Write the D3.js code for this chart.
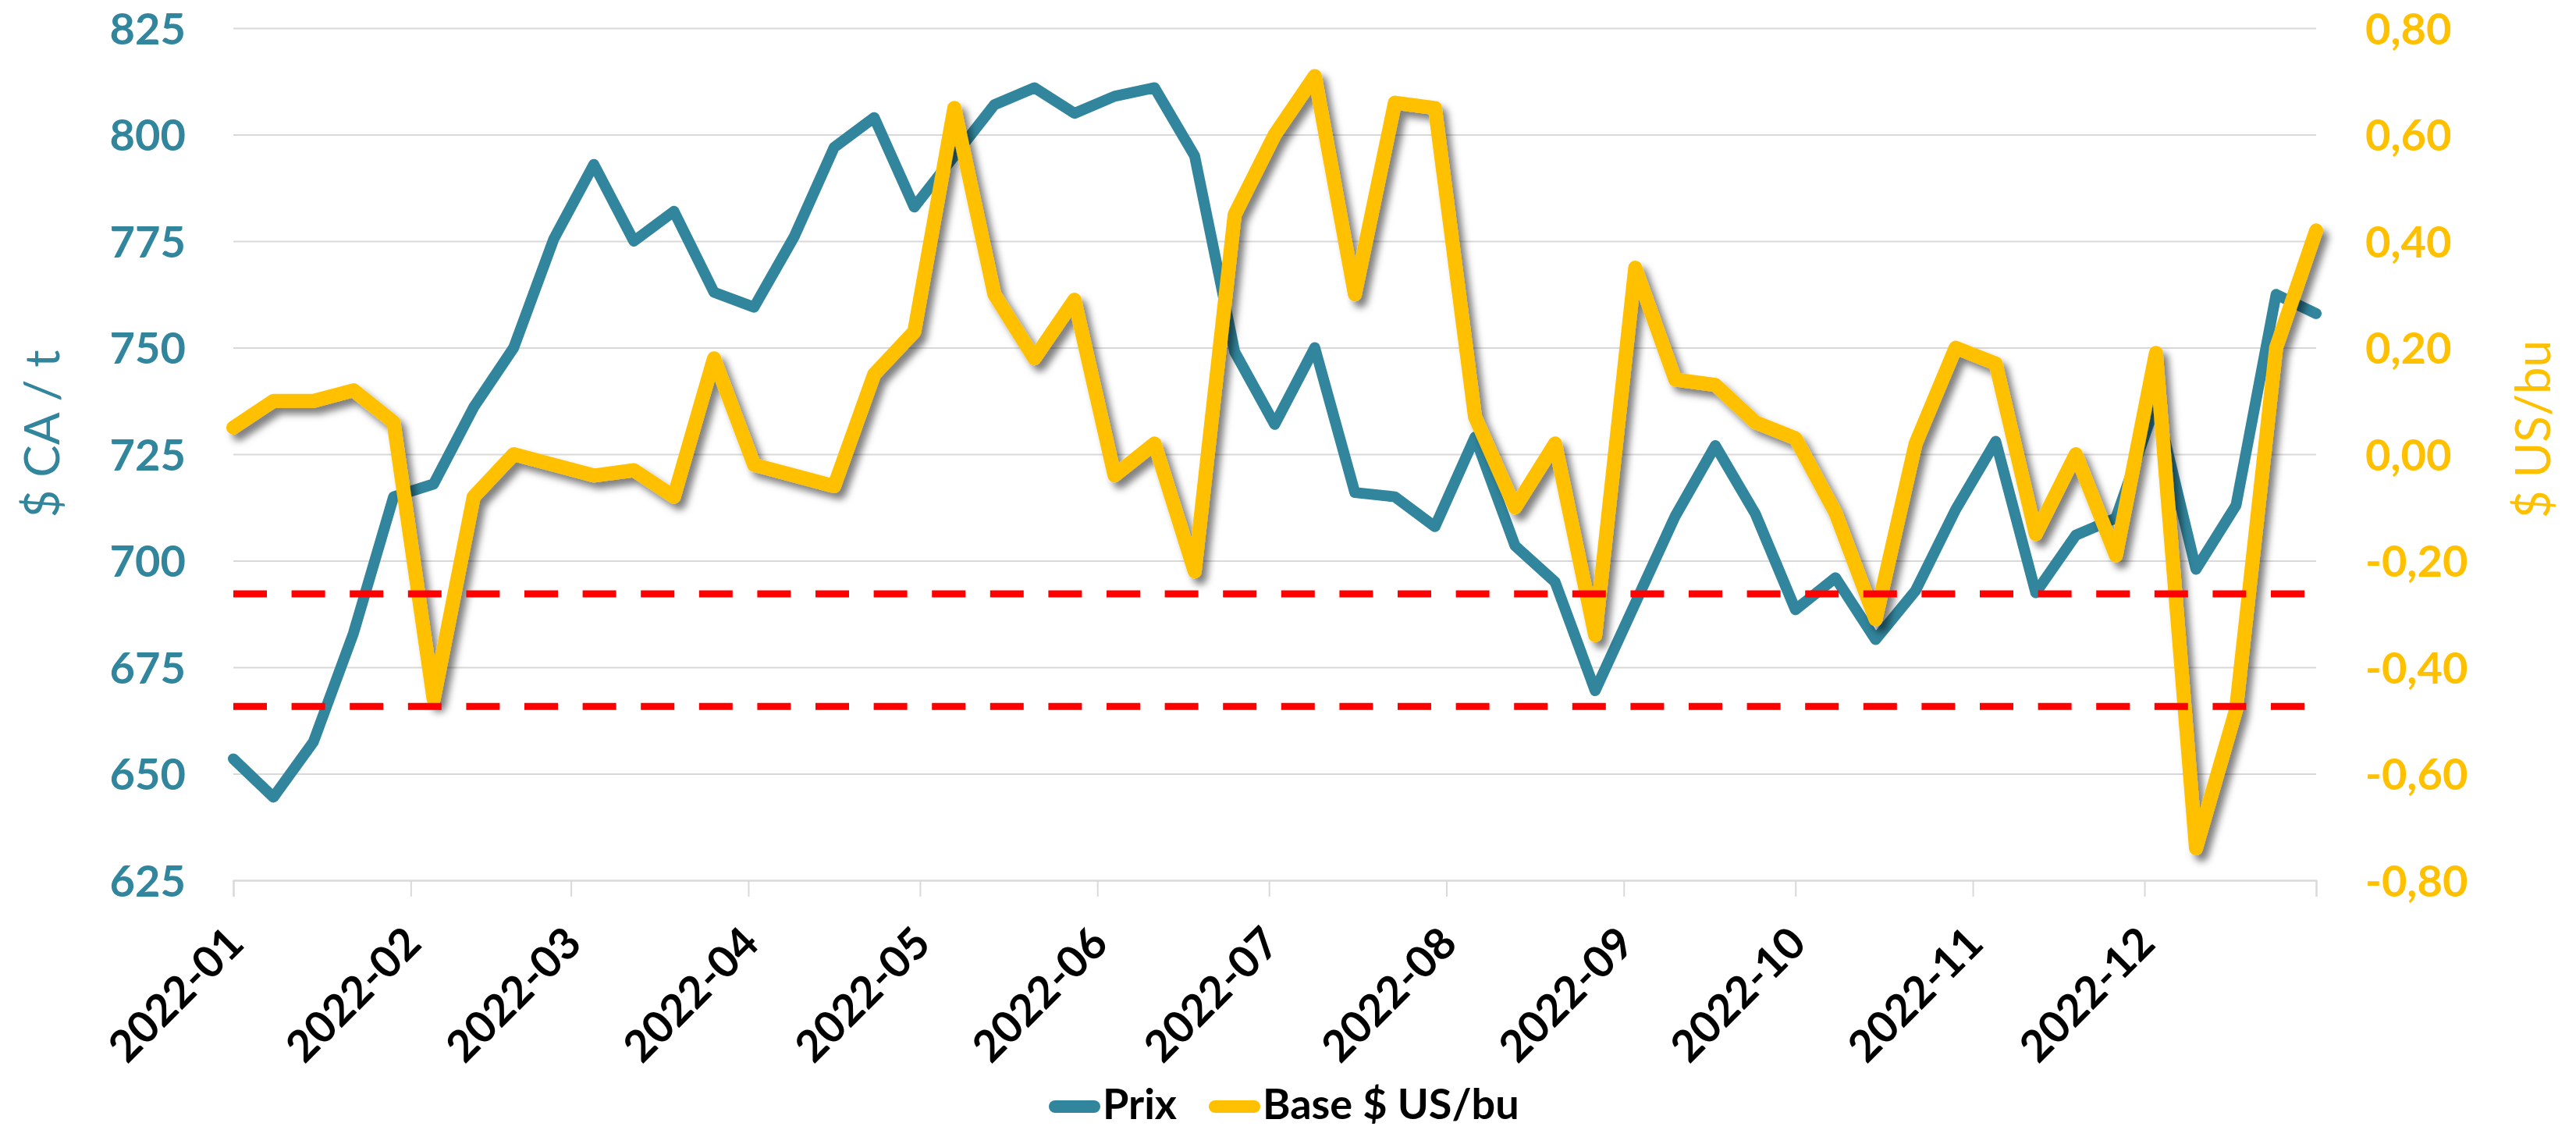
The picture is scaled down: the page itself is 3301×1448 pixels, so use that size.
<!DOCTYPE html>
<html>
<head>
<meta charset="utf-8">
<script src="https://cdn.jsdelivr.net/npm/d3@7"></script>
<style>
  body { margin: 0; background: #fff; }
  svg { display: block; font-family: Lato, "Open Sans", sans-serif; }
</style>
</head>
<body>
<div id="chart"></div>
<script>
// Weekly observations (saturdays)
const dates = [
  "2022-01-01","2022-01-08","2022-01-15","2022-01-22","2022-01-29",
  "2022-02-05","2022-02-12","2022-02-19","2022-02-26",
  "2022-03-05","2022-03-12","2022-03-19","2022-03-26",
  "2022-04-02","2022-04-09","2022-04-16","2022-04-23","2022-04-30",
  "2022-05-07","2022-05-14","2022-05-21","2022-05-28",
  "2022-06-04","2022-06-11","2022-06-18","2022-06-25",
  "2022-07-02","2022-07-09","2022-07-16","2022-07-23","2022-07-30",
  "2022-08-06","2022-08-13","2022-08-20","2022-08-27",
  "2022-09-03","2022-09-10","2022-09-17","2022-09-24",
  "2022-10-01","2022-10-08","2022-10-15","2022-10-22","2022-10-29",
  "2022-11-05","2022-11-12","2022-11-19","2022-11-26",
  "2022-12-03","2022-12-10","2022-12-17","2022-12-24","2022-12-31"
];

// Prix ($ CA / t), left axis
const prix = [
  653.5, 644.5, 657.5, 683, 715,
  718, 736, 750, 775.5,
  793, 775, 782, 763,
  759.5, 776, 797, 804, 783,
  795, 807, 811, 805,
  809, 811, 795, 749,
  732, 750, 716, 715, 708,
  729, 703.5, 695, 669.5,
  690, 710.5, 727, 711,
  688.5, 696, 681.5, 693, 712,
  728, 692.5, 706, 710,
  737, 698, 713, 762.5, 758
];

// Base ($ US/bu), right axis
const base = [
  0.05, 0.10, 0.10, 0.12, 0.06,
  -0.46, -0.08, 0.00, -0.02,
  -0.04, -0.03, -0.08, 0.18,
  -0.02, -0.04, -0.06, 0.15, 0.23,
  0.65, 0.30, 0.18, 0.29,
  -0.04, 0.02, -0.22, 0.45,
  0.60, 0.71, 0.30, 0.66, 0.65,
  0.07, -0.10, 0.02, -0.34,
  0.35, 0.14, 0.13, 0.06,
  0.03, -0.11, -0.31, 0.02, 0.20,
  0.17, -0.15, 0.00, -0.19,
  0.19, -0.74, -0.48, 0.20, 0.42
];

const monthLabels = ["2022-01","2022-02","2022-03","2022-04","2022-05","2022-06",
  "2022-07","2022-08","2022-09","2022-10","2022-11","2022-12"];
const leftTicks = [625, 650, 675, 700, 725, 750, 775, 800, 825];
const rightTicks = [-0.8, -0.6, -0.4, -0.2, 0, 0.2, 0.4, 0.6, 0.8];
// red dashed reference levels ($ CA / t)
const refLevels = [692.2, 665.8];

const seriesNames = ["Prix", "Base $ US/bu"];
const colors = { prix: "#31859C", base: "#FFC000", grid: "#D9D9D9", ref: "#FF0000" };

// Set up the chart dimensions
const fullWidth = 3301, fullHeight = 1448;
const margin = { top: 36, right: 333, bottom: 320, left: 299 };
const width = fullWidth - margin.left - margin.right;
const height = fullHeight - margin.top - margin.bottom;

const parseDay = d3.utcParse("%Y-%m-%d");
const parseMonth = d3.utcParse("%Y-%m");

const rows = dates.map((d, i) => ({ date: parseDay(d), prix: prix[i], base: base[i] }));

const x = d3.scaleUtc()
  .domain([parseDay(dates[0]), parseDay(dates[dates.length - 1])])
  .range([0, width]);

const yLeft = d3.scaleLinear().domain([625, 825]).range([height, 0]);
const yRight = d3.scaleLinear().domain([-0.8, 0.8]).range([height, 0]);

// comma decimals, plain hyphen minus
const frLocale = d3.formatLocale({ decimal: ",", thousands: " ", grouping: [3], currency: ["", " $"], minus: "-" });
const fmtRight = frLocale.format(".2f");

const svg = d3.select("#chart")
  .append("svg")
  .attr("width", fullWidth)
  .attr("height", fullHeight);

svg.append("rect").attr("width", fullWidth).attr("height", fullHeight).attr("fill", "#fff");

// drop shadow for the base line
const filt = svg.append("defs").append("filter")
  .attr("id", "shadow")
  .attr("x", "-5%").attr("y", "-5%")
  .attr("width", "112%").attr("height", "115%");
filt.append("feDropShadow")
  .attr("dx", 7).attr("dy", 8)
  .attr("stdDeviation", 5)
  .attr("flood-color", "#000")
  .attr("flood-opacity", 0.5);

const g = svg.append("g")
  .attr("transform", "translate(" + margin.left + "," + margin.top + ")");

// Horizontal gridlines
g.append("g")
  .attr("class", "grid")
  .call(d3.axisLeft(yLeft).tickValues(leftTicks).tickSize(-width).tickFormat(""))
  .call(s => s.select(".domain").remove())
  .call(s => s.selectAll("line").attr("stroke", colors.grid).attr("stroke-width", 2));

// Left axis labels
g.append("g")
  .call(d3.axisLeft(yLeft).tickValues(leftTicks).tickSize(0).tickPadding(61))
  .call(s => s.select(".domain").remove())
  .call(s => s.selectAll("text")
    .attr("fill", colors.prix)
    .attr("font-family", "Lato, sans-serif")
    .attr("font-weight", 700)
    .attr("font-size", 56)
    .attr("dy", "0.36em"));

// Right axis labels
g.append("g")
  .attr("transform", "translate(" + width + ",0)")
  .call(d3.axisRight(yRight).tickValues(rightTicks).tickSize(0).tickPadding(63).tickFormat(d => fmtRight(d)))
  .call(s => s.select(".domain").remove())
  .call(s => s.selectAll("text")
    .attr("fill", colors.base)
    .attr("font-family", "Lato, sans-serif")
    .attr("font-weight", 700)
    .attr("font-size", 56)
    .attr("dy", "0.36em"));

// Bottom axis with month ticks (plus the end of the axis)
const monthDates = monthLabels.map(parseMonth);
const xTicks = monthDates.concat([x.domain()[1]]);
g.append("g")
  .attr("transform", "translate(0," + height + ")")
  .call(d3.axisBottom(x).tickValues(xTicks).tickSize(21)
    .tickFormat((d, i) => i < monthLabels.length ? monthLabels[i] : ""))
  .call(s => s.select(".domain").attr("stroke", colors.grid).attr("stroke-width", 2))
  .call(s => s.selectAll("line").attr("stroke", colors.grid).attr("stroke-width", 2))
  .call(s => s.selectAll("text")
    .attr("x", 0).attr("y", 0).attr("dy", 0)
    .attr("transform", "translate(16,84) rotate(-45)")
    .attr("text-anchor", "end")
    .attr("fill", "#000")
    .attr("font-family", "Lato, sans-serif")
    .attr("font-weight", 700)
    .attr("font-size", 56));

// Axis titles
svg.append("text")
  .attr("transform", "translate(76," + 556 + ") rotate(-90)")
  .attr("text-anchor", "middle")
  .attr("fill", colors.prix)
  .attr("font-size", 62)
  .text("$ CA / t");

svg.append("text")
  .attr("transform", "translate(3268," + 550 + ") rotate(-90)")
  .attr("text-anchor", "middle")
  .attr("fill", colors.base)
  .attr("font-size", 62)
  .text("$ US/bu");

// The two series
const linePrix = d3.line().x(d => x(d.date)).y(d => yLeft(d.prix));
const lineBase = d3.line().x(d => x(d.date)).y(d => yRight(d.base));

g.append("path")
  .datum(rows)
  .attr("d", linePrix)
  .attr("fill", "none")
  .attr("stroke", colors.prix)
  .attr("stroke-width", 14)
  .attr("stroke-linejoin", "round")
  .attr("stroke-linecap", "round");

g.append("path")
  .datum(rows)
  .attr("d", lineBase)
  .attr("fill", "none")
  .attr("stroke", colors.base)
  .attr("stroke-width", 18)
  .attr("stroke-linejoin", "round")
  .attr("stroke-linecap", "round")
  .attr("filter", "url(#shadow)");

// Red dashed reference lines
g.selectAll(".ref")
  .data(refLevels)
  .enter().append("line")
  .attr("class", "ref")
  .attr("x1", 0)
  .attr("x2", width)
  .attr("y1", d => yLeft(d))
  .attr("y2", d => yLeft(d))
  .attr("stroke", colors.ref)
  .attr("stroke-width", 9)
  .attr("stroke-dasharray", "43 31.6");

// Legend
const legendItems = [
  { name: seriesNames[0], color: colors.prix, x: 1344 },
  { name: seriesNames[1], color: colors.base, x: 1549 }
];
const legend = svg.append("g");
legendItems.forEach(item => {
  legend.append("line")
    .attr("x1", item.x + 8).attr("x2", item.x + 58)
    .attr("y1", 1418).attr("y2", 1418)
    .attr("stroke", item.color)
    .attr("stroke-width", 16)
    .attr("stroke-linecap", "round");
  legend.append("text")
    .attr("x", item.x + 69)
    .attr("y", 1434)
    .attr("font-family", "Lato, sans-serif")
    .attr("font-weight", 700)
    .attr("font-size", 54)
    .attr("fill", "#000")
    .text(item.name);
});
</script>
</body>
</html>
